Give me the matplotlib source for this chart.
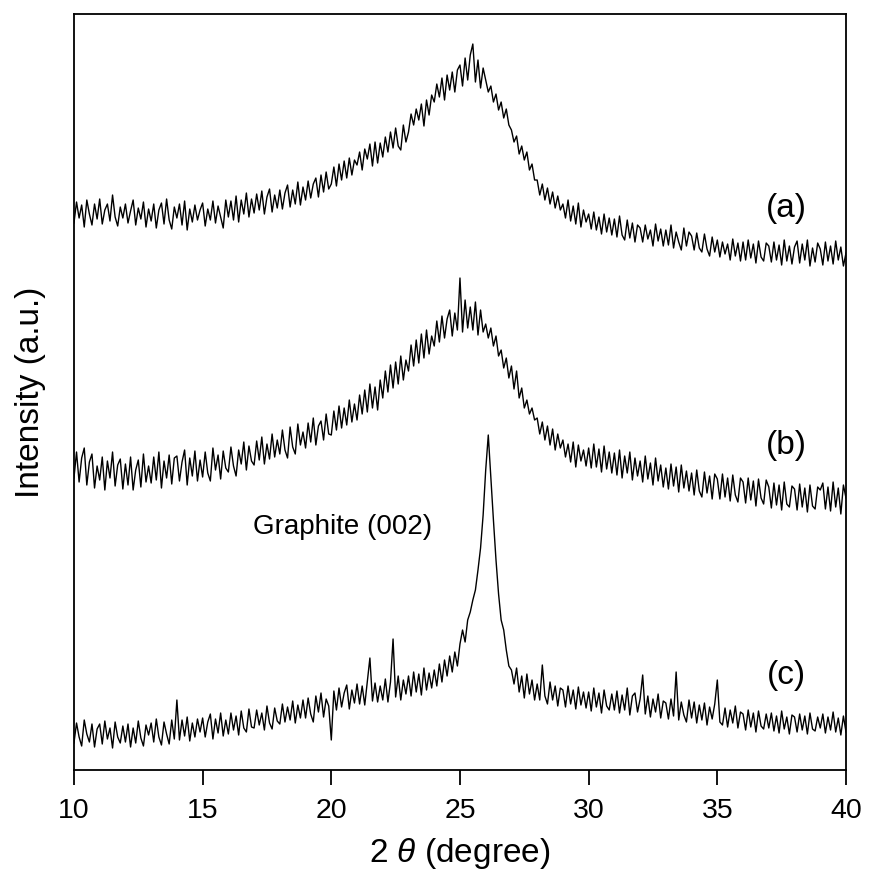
import numpy as np
import matplotlib
matplotlib.use("Agg")
import matplotlib.pyplot as plt

plt.rcParams["font.family"] = ["Liberation Sans", "DejaVu Sans"]
plt.rcParams["mathtext.fontset"] = "custom"
plt.rcParams["mathtext.it"] = "Liberation Sans:italic"
plt.rcParams["mathtext.rm"] = "Liberation Sans"

# 2theta grid, 0.1 degree steps from 10 to 40
two_theta = np.linspace(10, 40, 301)

# intensities (arbitrary units, curves already offset)
curve_a = [
    547, 568, 552, 565, 543, 570, 556, 545, 566, 551,
    571, 546, 560, 566, 549, 575, 553, 544, 563, 552,
    566, 547, 559, 570, 545, 562, 551, 568, 543, 561,
    549, 566, 542, 560, 567, 546, 571, 550, 541, 563,
    552, 566, 545, 569, 540, 561, 548, 565, 550, 560,
    567, 544, 561, 550, 569, 547, 564, 553, 542, 570,
    553, 569, 550, 574, 548, 570, 556, 577, 553, 571,
    557, 576, 560, 579, 556, 573, 581, 558, 575, 562,
    580, 561, 577, 585, 563, 580, 566, 588, 565, 583,
    570, 589, 572, 586, 592, 573, 595, 578, 598, 581,
    586, 603, 584, 606, 590, 609, 592, 612, 595, 610,
    605, 618, 600, 621, 611, 626, 604, 628, 607, 627,
    613, 633, 618, 638, 622, 642, 624, 620, 645, 628,
    638, 656, 645, 661, 650, 666, 644, 670, 655, 675,
    668, 686, 673, 692, 670, 695, 680, 698, 678, 700,
    705, 684, 712, 690, 715, 726, 688, 710, 682, 702,
    690, 678, 684, 668, 676, 660, 668, 652, 661, 645,
    640, 628, 634, 616, 624, 610, 618, 600, 606, 590,
    590, 575, 586, 570, 582, 566, 578, 562, 574, 560,
    566, 552, 570, 549, 564, 546, 567, 543, 560, 548,
    556, 541, 558, 540, 553, 536, 556, 538, 552, 535,
    551, 533, 554, 535, 530, 550, 532, 547, 528, 545,
    542, 528, 545, 531, 540, 524, 546, 529, 541, 524,
    540, 525, 545, 522, 538, 528, 520, 542, 524, 538,
    534, 520, 537, 522, 518, 536, 521, 514, 533, 518,
    530, 513, 528, 516, 526, 510, 531, 514, 527, 509,
    528, 510, 530, 512, 526, 507, 529, 513, 509, 527,
    524, 508, 528, 510, 525, 505, 530, 509, 524, 506,
    523, 529, 507, 526, 510, 530, 504, 522, 508, 527,
    521, 505, 528, 509, 524, 506, 529, 510, 523, 504,
    517,
]

curve_b = [
    292, 318, 288, 312, 322, 285, 308, 316, 282, 304,
    290, 313, 280, 309, 292, 318, 284, 305, 311, 281,
    306, 285, 313, 280, 300, 310, 283, 316, 288, 304,
    287, 313, 290, 318, 282, 309, 292, 315, 286, 312,
    314, 289, 308, 320, 285, 312, 294, 319, 289, 310,
    293, 318, 297, 289, 322, 300, 315, 291, 319, 302,
    298, 323, 304, 294, 320, 306, 328, 300, 324, 309,
    305, 329, 310, 333, 306, 326, 311, 336, 313, 330,
    316, 340, 320, 312, 343, 323, 316, 346, 325, 338,
    322, 347, 328, 352, 325, 344, 349, 330, 356, 336,
    335, 359, 340, 364, 342, 362, 345, 370, 348, 366,
    350, 375, 356, 380, 358, 386, 362, 383, 360, 390,
    372, 399, 378, 405, 382, 408, 386, 414, 390, 410,
    399, 425, 404, 430, 407, 436, 412, 440, 416, 434,
    424, 449, 428, 454, 432, 451, 460, 434, 457, 440,
    492, 438, 470, 442, 463, 440, 468, 435, 460, 438,
    446, 432, 442, 424, 434, 414, 420, 402, 412, 392,
    404, 381, 399, 372, 382, 362, 370, 356, 362, 350,
    352, 336, 348, 330, 344, 325, 341, 320, 336, 322,
    330, 313, 326, 308, 328, 303, 325, 309, 320, 304,
    322, 302, 326, 303, 321, 298, 324, 301, 318, 297,
    317, 295, 320, 292, 314, 297, 318, 290, 312, 294,
    309, 288, 314, 291, 307, 285, 312, 289, 305, 283,
    302, 281, 306, 284, 303, 278, 305, 282, 299, 279,
    297, 275, 300, 279, 273, 298, 277, 294, 271, 296,
    291, 271, 296, 273, 292, 269, 295, 275, 268, 292,
    288, 267, 292, 270, 289, 264, 291, 272, 266, 290,
    283, 262, 287, 265, 285, 260, 288, 266, 263, 284,
    281, 260, 286, 263, 282, 258, 285, 264, 261, 283,
    280, 287, 261, 283, 259, 288, 263, 282, 256, 285,
    272,
]

curve_c = [
    27, 47, 33, 24, 50, 36, 28, 46, 23, 41,
    46, 26, 49, 31, 42, 22, 48, 33, 27, 44,
    28, 46, 23, 42, 27, 49, 32, 24, 45, 35,
    47, 28, 51, 33, 25, 48, 36, 26, 50, 31,
    70, 30, 50, 34, 53, 29, 47, 33, 51, 38,
    52, 33, 48, 56, 31, 51, 37, 57, 34, 50,
    36, 57, 40, 54, 35, 59, 42, 38, 61, 43,
    42, 60, 45, 57, 40, 64, 47, 41, 62, 49,
    46, 66, 48, 63, 50, 69, 47, 65, 52, 70,
    52, 72, 56, 48, 74, 58, 77, 53, 71, 64,
    30, 79, 60, 82, 63, 77, 85, 61, 80, 67,
    86, 66, 84, 65, 89, 112, 69, 87, 68, 84,
    70, 91, 68, 88, 131, 73, 94, 70, 90, 76,
    94, 74, 98, 78, 96, 75, 102, 80, 97, 82,
    100, 84, 106, 88, 110, 94, 114, 98, 118, 104,
    126, 140, 128, 150, 158, 170, 180, 200, 222, 255,
    300, 335, 292, 250, 210, 176, 150, 140, 120, 104,
    100, 86, 102, 78, 94, 72, 96, 76, 90, 70,
    86, 70, 105, 74, 66, 88, 70, 84, 64, 82,
    80, 63, 84, 66, 80, 61, 83, 65, 78, 62,
    78, 59, 82, 63, 77, 57, 80, 64, 60, 76,
    60, 79, 57, 75, 60, 82, 55, 74, 77, 58,
    71, 95, 56, 74, 53, 71, 58, 76, 52, 69,
    67, 51, 71, 54, 98, 50, 68, 55, 48, 70,
    52, 68, 47, 65, 50, 67, 45, 63, 51, 66,
    90, 48, 45, 62, 43, 60, 47, 64, 42, 58,
    56, 40, 60, 43, 57, 38, 59, 44, 41, 56,
    42, 57, 39, 54, 37, 59, 41, 53, 36, 55,
    53, 38, 56, 40, 54, 36, 57, 41, 39, 53,
    42, 56, 37, 53, 40, 58, 38, 52, 35, 54,
    38,
]

labels = ["(a)", "(b)", "(c)"]
label_y = [562, 325, 95]

fig = plt.figure(figsize=(8.7, 8.76), dpi=100)
ax = fig.add_axes([0.085, 0.121, 0.8874, 0.863])

for y in (curve_a, curve_b, curve_c):
    ax.plot(two_theta, y, color="black", lw=1.0)

for lab, ly in zip(labels, label_y):
    ax.text(37.7, ly, lab, fontsize=24, ha="center", va="center")

ax.text(20.45, 243, "Graphite (002)", fontsize=20, ha="center", va="center")

ax.set_xlim(10, 40)
ax.set_ylim(0, 756)
ax.set_xticks([10, 15, 20, 25, 30, 35, 40])
ax.set_yticks([])
ax.tick_params(axis="x", direction="out", length=11, width=1.3, labelsize=20.5, pad=9)
for s in ax.spines.values():
    s.set_linewidth(1.3)

ax.set_xlabel(r"2 $\theta$ (degree)", fontsize=24, labelpad=9)
ax.set_ylabel("Intensity (a.u.)", fontsize=24, labelpad=20)

fig.savefig("out.png", dpi=100)
